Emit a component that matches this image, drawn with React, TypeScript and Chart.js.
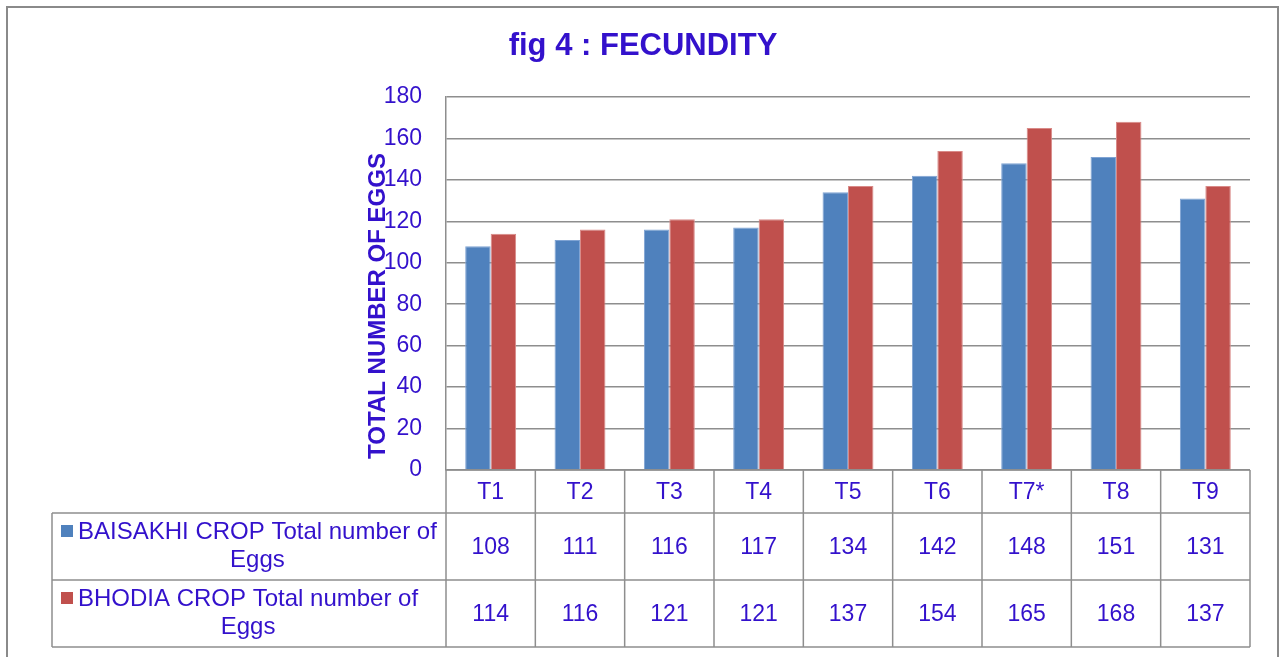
import React, { useEffect, useRef } from "react";
import { Chart, registerables } from "chart.js";

Chart.register(...registerables);

const categories = ["T1", "T2", "T3", "T4", "T5", "T6", "T7*", "T8", "T9"];
const baisakhi = [108, 111, 116, 117, 134, 142, 148, 151, 131];
const bhodia = [114, 116, 121, 121, 137, 154, 165, 168, 137];
const seriesNames = ["BAISAKHI CROP Total number of", "BHODIA CROP Total number of"];
const seriesNameLine2 = "Eggs";
const titleText = "fig 4 : FECUNDITY";
const yTitle = "TOTAL NUMBER OF EGGS";

const TEXT = "#3311CC";
const BLUE = "#4F81BD";
const RED = "#C0504D";
const GRID = "#8E8E8E";
const FONT = "'Liberation Sans', Arial, sans-serif";

const decorPlugin = {
  id: "decor",
  afterDraw(chart: any) {
    const ctx = chart.ctx;
    const area = chart.chartArea;
    const xs = chart.scales.x;
    const n = categories.length;
    const colW = (area.right - area.left) / n;
    const headerTop = area.bottom;
    const row1Top = area.bottom + 43;
    const row2Top = row1Top + 67;
    const tableBottom = row2Top + 67;
    const legendLeft = 52;
    ctx.save();
    // outer frame
    ctx.strokeStyle = "#8A8A8A";
    ctx.lineWidth = 2;
    ctx.strokeRect(7, 7, 1271, 700);

    // title
    ctx.fillStyle = TEXT;
    ctx.font = `bold 31px ${FONT}`;
    ctx.textAlign = "center";
    ctx.textBaseline = "middle";
    ctx.fillText(titleText, 643, 46);

    // y title
    ctx.save();
    ctx.translate(area.left - 68, 306);
    ctx.rotate(-Math.PI / 2);
    ctx.font = `bold 24px ${FONT}`;
    ctx.fillText(yTitle, 0, 0);
    ctx.restore();

    // table lines
    ctx.strokeStyle = GRID;
    ctx.lineWidth = 1.5;
    ctx.beginPath();
    ctx.moveTo(area.left, headerTop);
    ctx.lineTo(area.right, headerTop);
    for (const y of [row1Top, row2Top, tableBottom]) {
      ctx.moveTo(legendLeft, y);
      ctx.lineTo(area.right, y);
    }
    for (let i = 0; i <= n; i++) {
      const x = area.left + i * colW;
      ctx.moveTo(x, headerTop);
      ctx.lineTo(x, tableBottom);
    }
    ctx.moveTo(legendLeft, row1Top);
    ctx.lineTo(legendLeft, tableBottom);
    ctx.stroke();

    // table text
    ctx.fillStyle = TEXT;
    ctx.font = `23px ${FONT}`;
    ctx.textAlign = "center";
    ctx.textBaseline = "middle";
    categories.forEach((c, i) => {
      const x = xs.getPixelForValue(i);
      ctx.fillText(c, x, (headerTop + row1Top) / 2 + 1);
      ctx.fillText(String(baisakhi[i]), x, (row1Top + row2Top) / 2 + 1);
      ctx.fillText(String(bhodia[i]), x, (row2Top + tableBottom) / 2 + 1);
    });

    // legend cells
    ctx.font = `24px ${FONT}`;
    const rows = [
      { top: row1Top, color: BLUE, name: seriesNames[0] },
      { top: row2Top, color: RED, name: seriesNames[1] },
    ];
    rows.forEach((r) => {
      const y1 = r.top + 18;
      const y2 = r.top + 46;
      ctx.fillStyle = r.color;
      ctx.fillRect(61, y1 - 6, 12, 12);
      ctx.fillStyle = TEXT;
      ctx.textAlign = "left";
      ctx.fillText(r.name, 78, y1 + 1);
      const w = ctx.measureText(r.name).width;
      ctx.textAlign = "center";
      ctx.fillText(seriesNameLine2, 78 + w / 2, y2 + 1);
    });
    ctx.restore();
  },
};

export default function App() {
  const ref = useRef<HTMLCanvasElement>(null);
  useEffect(() => {
    if (!ref.current) return;
    const chart = new Chart(ref.current, {
      type: "bar",
      data: {
        labels: categories,
        datasets: [
          { label: seriesNames[0] + " " + seriesNameLine2, data: baisakhi, backgroundColor: BLUE, borderColor: "#7FA3D3", borderWidth: 1 },
          { label: seriesNames[1] + " " + seriesNameLine2, data: bhodia, backgroundColor: RED, borderColor: "#D98A88", borderWidth: 1 },
        ],
      },
      options: {
        animation: false,
        responsive: true,
        maintainAspectRatio: false,
        layout: { padding: { top: 97, right: 33, bottom: 187, left: 0 } },
        plugins: {
          legend: { display: false },
          title: { display: false },
          tooltip: { enabled: false },
        },
        datasets: { bar: { categoryPercentage: 0.57, barPercentage: 1 } },
        scales: {
          x: { display: false },
          y: {
            min: 0,
            max: 180,
            ticks: {
              stepSize: 20,
              padding: 24,
              color: TEXT,
              font: { family: FONT, size: 23 },
            },
            grid: { color: GRID, lineWidth: 1.5, drawTicks: false },
            border: { display: true, color: GRID, width: 1.5 },
            afterFit(scale: any) {
              scale.width = 446;
            },
          },
        },
      },
      plugins: [decorPlugin],
    });
    return () => chart.destroy();
  }, []);
  return (
    <div style={{ position: "absolute", left: 0, top: 0, width: 1283, height: 657, background: "#fff" }}>
      <canvas ref={ref} />
    </div>
  );
}
